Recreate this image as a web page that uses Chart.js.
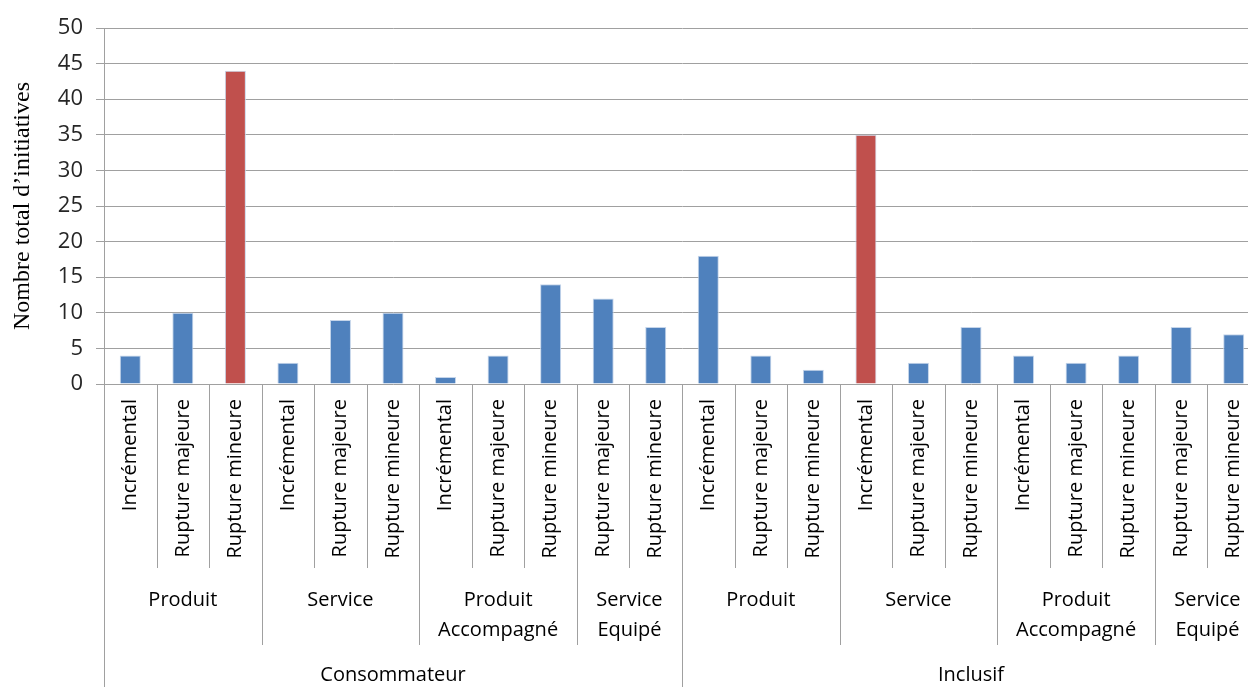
<!DOCTYPE html>
<html>
<head>
<meta charset="utf-8">
<script src="https://cdn.jsdelivr.net/npm/chart.js@4"></script>
<style>
  html, body { margin: 0; padding: 0; background: #fff; overflow: hidden; }
  #wrap { width: 1260px; height: 687px; }
</style>
</head>
<body>
<div id="wrap"><canvas id="chart"></canvas></div>
<script>
var innovation = [
  "Incrémental", "Rupture majeure", "Rupture mineure",
  "Incrémental", "Rupture majeure", "Rupture mineure",
  "Incrémental", "Rupture majeure", "Rupture mineure",
  "Rupture majeure", "Rupture mineure",
  "Incrémental", "Rupture majeure", "Rupture mineure",
  "Incrémental", "Rupture majeure", "Rupture mineure",
  "Incrémental", "Rupture majeure", "Rupture mineure",
  "Rupture majeure", "Rupture mineure"
];
var values = [4, 10, 44, 3, 9, 10, 1, 4, 14, 12, 8, 18, 4, 2, 35, 3, 8, 4, 3, 4, 8, 7];
var highlighted = [2, 14];

var offerLabels = [
  ["Produit"], ["Service"], ["Produit", "Accompagné"], ["Service", "Equipé"],
  ["Produit"], ["Service"], ["Produit", "Accompagné"], ["Service", "Equipé"]
];
var offerSpans = [3, 3, 3, 2, 3, 3, 3, 2];
var markets = ["Consommateur", "Inclusif"];
var marketSpans = [11, 11];
var yTicks = [0, 5, 10, 15, 20, 25, 30, 35, 40, 45, 50];

var BLUE = "#4f81bd", RED = "#c0504d", LINE = "#a0a0a0";
var FONT = "'Open Sans'";

var colors = values.map(function (v, i) {
  return highlighted.indexOf(i) >= 0 ? RED : BLUE;
});

var labelPlugin = {
  id: "multiLevelLabels",
  afterDraw: function (chart) {
    var ctx = chart.ctx, xs = chart.scales.x, area = chart.chartArea;
    var n = innovation.length;
    var half = (xs.getPixelForValue(1) - xs.getPixelForValue(0)) / 2;
    var bottom = area.bottom;
    function edge(i) { return i < n ? xs.getPixelForValue(i) - half : xs.getPixelForValue(n - 1) + half; }

    ctx.save();
    ctx.strokeStyle = LINE;
    ctx.lineWidth = 1;
    function vline(x, y2) {
      ctx.beginPath();
      ctx.moveTo(Math.round(x) + 0.5, bottom);
      ctx.lineTo(Math.round(x) + 0.5, y2);
      ctx.stroke();
    }
    // category dividers
    for (var i = 0; i <= n; i++) vline(edge(i), bottom + 184);
    // offer group dividers
    var pos = 0;
    for (var g = 0; g <= offerSpans.length; g++) {
      vline(edge(pos), bottom + 261);
      if (g < offerSpans.length) pos += offerSpans[g];
    }
    // market dividers
    pos = 0;
    for (var m = 0; m <= marketSpans.length; m++) {
      vline(edge(pos), chart.height);
      if (m < marketSpans.length) pos += marketSpans[m];
    }

    ctx.fillStyle = "#000";
    ctx.font = "20px " + FONT;
    // rotated category labels
    for (var k = 0; k < n; k++) {
      ctx.save();
      ctx.translate(xs.getPixelForValue(k), bottom + 15);
      ctx.rotate(-Math.PI / 2);
      ctx.textAlign = "right";
      ctx.textBaseline = "middle";
      ctx.fillText(innovation[k], 0, 0);
      ctx.restore();
    }
    // offer labels
    ctx.textAlign = "center";
    ctx.textBaseline = "middle";
    pos = 0;
    offerLabels.forEach(function (lines, g) {
      var cx = (edge(pos) + edge(pos + offerSpans[g])) / 2;
      lines.forEach(function (t, li) { ctx.fillText(t, cx, bottom + 216 + li * 30); });
      pos += offerSpans[g];
    });
    // market labels
    pos = 0;
    markets.forEach(function (t, m) {
      var cx = (edge(pos) + edge(pos + marketSpans[m])) / 2;
      ctx.fillText(t, cx, bottom + 291);
      pos += marketSpans[m];
    });
    ctx.restore();
  }
};

new Chart(document.getElementById("chart"), {
  type: "bar",
  data: {
    labels: innovation,
    datasets: [{
      data: values,
      backgroundColor: colors,
      borderColor: "#c5d5ea",
      borderWidth: 1,
      barPercentage: 0.4,
      categoryPercentage: 1
    }]
  },
  options: {
    responsive: true,
    maintainAspectRatio: false,
    animation: false,
    layout: { padding: { top: 28, right: 0, left: 0, bottom: 0 } },
    plugins: { legend: { display: false }, tooltip: { enabled: false } },
    scales: {
      x: {
        ticks: { display: false },
        grid: { display: false, drawTicks: false },
        border: { display: false },
        afterFit: function (s) { s.height = 303; }
      },
      y: {
        min: 0,
        max: 50,
        afterBuildTicks: function (s) { s.ticks = yTicks.map(function (v) { return { value: v }; }); },
        ticks: { color: "#262626", font: { family: "Open Sans", size: 22 }, padding: 13 },
        grid: { color: LINE, tickLength: 8, tickColor: LINE },
        border: { color: LINE },
        title: {
          display: true,
          text: "Nombre total d’initiatives",
          color: "#000",
          font: { family: "Liberation Serif", size: 24 },
          padding: { top: 8, bottom: 0 }
        },
        afterFit: function (s) { s.width = 104; }
      }
    }
  },
  plugins: [labelPlugin]
});
</script>
</body>
</html>
